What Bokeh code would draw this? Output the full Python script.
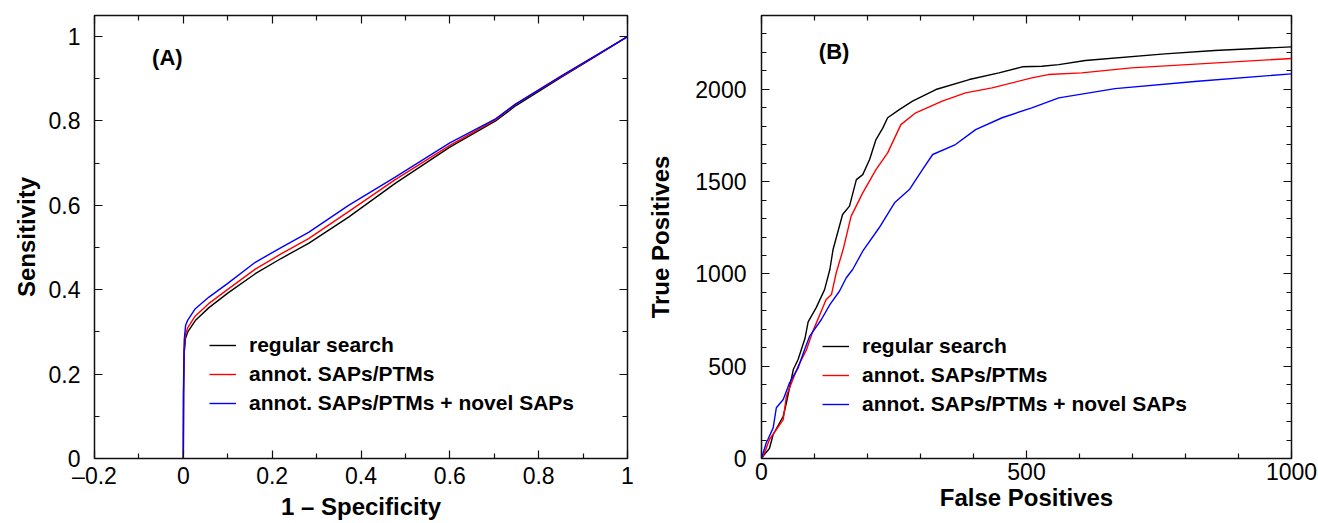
from bokeh.plotting import figure
from bokeh.layouts import row
from bokeh.models import FixedTicker, LinearAxis, Range1d, Label, CustomJSTickFormatter
from bokeh.embed import file_html
from bokeh.resources import INLINE

# ---------------- data ----------------
series_names = ["regular search", "annot. SAPs/PTMs", "annot. SAPs/PTMs + novel SAPs"]
series_colors = ["#000000", "#ff0000", "#0000ff"]

# Panel A: ROC (1 - specificity vs sensitivity)
roc_x = [0, 0.0005, 0.002, 0.005, 0.01, 0.027, 0.057, 0.1, 0.162, 0.22, 0.282,
         0.372, 0.477, 0.6, 0.703, 0.748, 0.853, 0.928, 1.0]
roc_regular = [0, 0.15, 0.25, 0.285, 0.300, 0.327, 0.357, 0.392, 0.438, 0.474, 0.510,
               0.572, 0.652, 0.738, 0.800, 0.836, 0.905, 0.953, 1.0]
roc_annot = [0, 0.16, 0.26, 0.295, 0.310, 0.338, 0.367, 0.401, 0.449, 0.485, 0.521,
             0.585, 0.661, 0.742, 0.803, 0.840, 0.907, 0.954, 1.0]
roc_novel = [0, 0.18, 0.28, 0.315, 0.328, 0.355, 0.382, 0.415, 0.465, 0.500, 0.536,
             0.600, 0.667, 0.748, 0.805, 0.840, 0.908, 0.955, 1.0]

# Panel B: false positives vs true positives
fp_regular = [0, 5, 15, 22, 41, 47, 60, 69, 82, 88, 103, 119, 129, 135, 153, 166, 179,
              191, 204, 216, 229, 238, 260, 285, 329, 392, 448, 492, 529, 561, 611,
              761, 855, 1000]
tp_regular = [0, 20, 54, 130, 229, 302, 482, 536, 650, 740, 816, 915, 1024, 1132, 1322,
              1367, 1511, 1538, 1620, 1728, 1791, 1846, 1890, 1936, 1999, 2053, 2089,
              2122, 2125, 2134, 2156, 2192, 2210, 2230]
fp_annot = [0, 5, 15, 41, 47, 69, 85, 97, 122, 132, 141, 154, 169, 191, 216, 238, 263,
            291, 341, 385, 435, 510, 541, 604, 698, 1000]
tp_annot = [0, 25, 103, 211, 338, 500, 590, 690, 861, 888, 1006, 1132, 1312, 1439, 1565,
            1656, 1809, 1873, 1936, 1981, 2008, 2062, 2080, 2089, 2116, 2167]
fp_novel = [0, 9, 12, 22, 28, 41, 53, 60, 69, 80, 91, 113, 129, 147, 160, 172, 191, 222,
            251, 279, 304, 323, 366, 404, 454, 510, 561, 667, 823, 1000]
tp_novel = [0, 85, 103, 166, 275, 320, 410, 446, 490, 580, 663, 753, 834, 906, 979, 1024,
            1123, 1250, 1385, 1457, 1566, 1647, 1701, 1782, 1846, 1900, 1954, 2004,
            2044, 2084]

a_xticks = [-0.2, 0, 0.2, 0.4, 0.6, 0.8, 1.0]
a_xminor = [-0.1, 0.1, 0.3, 0.5, 0.7, 0.9]
a_yticks = [0, 0.2, 0.4, 0.6, 0.8, 1.0]
a_yminor = [0.1, 0.3, 0.5, 0.7, 0.9]
b_xticks = [0, 500, 1000]
b_xminor = [100, 200, 300, 400, 600, 700, 800, 900]
b_yticks = [0, 500, 1000, 1500, 2000]
b_yminor = [v for v in range(100, 2401, 100) if v % 500 != 0]

FONT = "Liberation Sans"
num_fmt = CustomJSTickFormatter(code="return Number(tick.toFixed(2)).toString().replace('-', '\u2013');")
blank_fmt = CustomJSTickFormatter(code="return '';")


def style_axis(ax, label=None, main=True, standoff_label=14, standoff_title=6):
    ax.axis_line_color = None
    ax.major_tick_in = 8
    ax.major_tick_out = 0
    ax.minor_tick_in = 5
    ax.minor_tick_out = 0
    ax.major_tick_line_color = "#111111"
    ax.minor_tick_line_color = "#111111"
    ax.major_tick_line_width = 1.2
    ax.minor_tick_line_width = 1.2
    if main:
        ax.major_label_text_font = FONT
        ax.major_label_text_font_size = "23px"
        ax.major_label_text_color = "black"
        ax.major_label_standoff = standoff_label
        if label is not None:
            ax.axis_label = label
            ax.axis_label_text_font = FONT
            ax.axis_label_text_font_style = "bold"
            ax.axis_label_text_font_size = "24px"
            ax.axis_label_text_color = "black"
            ax.axis_label_standoff = standoff_title
    else:
        ax.formatter = blank_fmt
        ax.major_label_text_font_size = "0px"
        ax.major_label_standoff = 0


def make_panel(width, height, xr, yr, xt, xm, yt, ym, borders, xlabel, ylabel,
               xfmt, yfmt, x_standoff, y_standoff, y_title_standoff):
    p = figure(width=width, height=height, x_range=Range1d(*xr), y_range=Range1d(*yr),
               output_backend="svg", toolbar_location=None, tools="")
    p.min_border_left, p.min_border_right, p.min_border_top, p.min_border_bottom = borders
    p.grid.visible = False
    p.outline_line_color = "#111111"
    p.outline_line_width = 1.5
    p.background_fill_color = "white"
    p.border_fill_color = "white"
    xtick = FixedTicker(ticks=xt, minor_ticks=xm)
    ytick = FixedTicker(ticks=yt, minor_ticks=ym)
    p.xaxis.ticker = xtick
    p.yaxis.ticker = ytick
    if xfmt is not None:
        p.xaxis.formatter = xfmt
    if yfmt is not None:
        p.yaxis.formatter = yfmt
    style_axis(p.xaxis[0], xlabel, True, x_standoff, 1)
    style_axis(p.yaxis[0], ylabel, True, y_standoff, y_title_standoff)
    top = LinearAxis(ticker=xtick)
    right = LinearAxis(ticker=ytick)
    style_axis(top, main=False)
    style_axis(right, main=False)
    p.add_layout(top, "above")
    p.add_layout(right, "right")
    return p


def style_legend(p, loc):
    lg = p.legend[0]
    lg.location = loc
    lg.background_fill_alpha = 0
    lg.border_line_alpha = 0
    lg.padding = 0
    lg.margin = 0
    lg.spacing = 3
    lg.label_height = 26
    lg.glyph_height = 26
    lg.glyph_width = 27
    lg.label_standoff = 13
    lg.label_text_font = FONT
    lg.label_text_font_style = "bold"
    lg.label_text_font_size = "21px"
    lg.label_text_color = "black"


# ---------------- panel A ----------------
pA = make_panel(644, 523, (-0.2, 1.0), (0, 1.05), a_xticks, a_xminor, a_yticks, a_yminor,
                (94, 17, 15, 65), "1 \u2013 Specificity", "Sensitivity",
                num_fmt, num_fmt, 4, 14, 6)
for ys, name, col in zip([roc_regular, roc_annot, roc_novel], series_names, series_colors):
    pA.line(roc_x, ys, line_color=col, line_width=1.4, legend_label=name)
style_legend(pA, (115, 42))
pA.add_layout(Label(x=-0.036, y=0.95, text="(A)", text_font=FONT, text_font_style="bold",
                    text_font_size="22px", text_align="center", text_baseline="middle",
                    text_color="black"))

# ---------------- panel B ----------------
pB = make_panel(674, 523, (0, 1000), (0, 2400), b_xticks, b_xminor, b_yticks, b_yminor,
                (115, 27, 15, 65), "False Positives", "True Positives",
                None, None, 4, 15, 18)
for xs, ys, name, col in zip([fp_regular, fp_annot, fp_novel],
                             [tp_regular, tp_annot, tp_novel], series_names, series_colors):
    pB.line(xs, ys, line_color=col, line_width=1.4, legend_label=name)
style_legend(pB, (61, 41))
pB.add_layout(Label(x=137, y=2205, text="(B)", text_font=FONT, text_font_style="bold",
                    text_font_size="22px", text_align="center", text_baseline="middle",
                    text_color="black"))

layout = row(pA, pB)
open("out.html", "w").write(file_html(layout, INLINE))
